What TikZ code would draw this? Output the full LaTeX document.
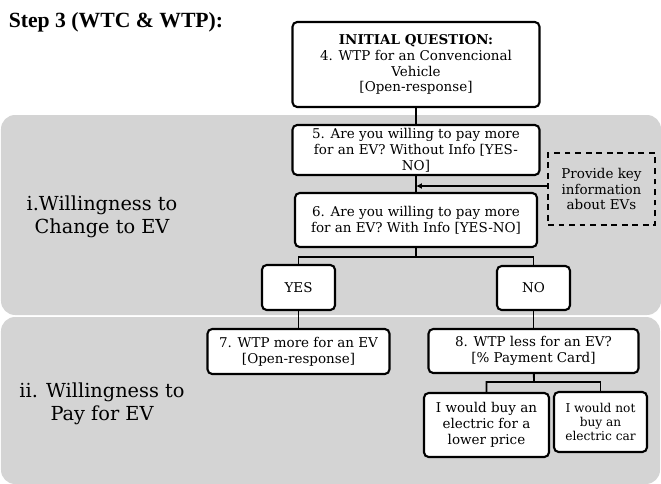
\documentclass[tikz,border=0pt]{standalone}
\usepackage{fontspec}
\setmainfont{DejaVu Serif}
\newfontfamily\titlefont{Liberation Serif}
\usepackage{tikz}
\usetikzlibrary{arrows.meta}
\definecolor{panelgray}{RGB}{212,212,212}

\begin{document}
\begin{tikzpicture}[auto,
    box/.style={rectangle, rounded corners=4pt, draw=black, line width=1.8pt, fill=white, align=center, inner sep=1pt, font=\fontsize{11.5}{13.6}\selectfont},
    note/.style={rectangle, draw=black, dash pattern=on 5pt off 4pt, line width=1.4pt, align=center, inner sep=1pt, font=\fontsize{11.5}{13.6}\selectfont},
    link/.style={line width=1.6pt},
    arrow/.style={line width=0.9pt, -{Latex[length=5pt,width=5pt]}},
    panel/.style={fill=panelgray, draw=none, rounded corners=12pt},
    section/.style={align=center, font=\fontsize{16.5}{19.5}\selectfont}]

    \useasboundingbox (0,0) rectangle (19.83,-14.52);

    % background panels
    \fill [panel] (0.03,-3.45) rectangle (19.83,-9.45);
    \fill [panel] (0.03,-9.51) rectangle (19.80,-14.52);

    % titles
    \node (title) at (3.48,-0.66) {\titlefont\fontsize{18.5}{22}\selectfont\bfseries Step 3 (WTC \& WTP):};
    \node [section] (wtc) at (3.06,-6.51) {i.Willingness to\\Change to EV};
    \node [section] (wtp) at (3.06,-12.12) {ii. Willingness to\\Pay for EV};

    % questions
    \node [box, minimum width=7.41cm, minimum height=2.55cm] (init) at (12.48,-1.935)
        {\textbf{INITIAL QUESTION:}\\4. WTP for an Convencional\\Vehicle\\{[Open-response]}};
    \node [box, minimum width=7.41cm, minimum height=1.5cm, below of=init, node distance=2.565cm] (q5)
        {5. Are you willing to pay more\\for an EV? Without Info [YES-\\NO]};
    \node [box, minimum width=7.26cm, minimum height=1.62cm, below of=q5, node distance=2.1cm] (q6)
        {6. Are you willing to pay more\\for an EV? With Info [YES-NO]};
    \node [note, minimum width=3.21cm, minimum height=2.16cm] (info) at (18.045,-5.67)
        {Provide key\\information\\about EVs};

    \node [box, minimum width=2.19cm, minimum height=1.35cm] (yes) at (8.955,-8.625) {YES};
    \node [box, minimum width=2.19cm, minimum height=1.32cm] (no) at (16.005,-8.64) {NO};

    \node [box, minimum width=5.46cm, minimum height=1.35cm, below of=yes, node distance=1.92cm] (q7)
        {7. WTP more for an EV\\{[Open-response]}};
    \node [box, minimum width=6.3cm, minimum height=1.32cm, below of=no, node distance=1.89cm] (q8)
        {8. WTP less for an EV?\\{[\% Payment Card]}};

    \node [box, minimum width=3.75cm, minimum height=1.92cm] (buy) at (14.595,-12.75)
        {I would buy an\\electric for a\\lower price};
    \node [box, minimum width=2.79cm, minimum height=1.8cm, font=\fontsize{10.4}{12}\selectfont] (notbuy) at (18.015,-12.66)
        {I would not\\buy an\\electric car};

    % branch points
    \coordinate (join) at (12.48,-5.58);
    \coordinate (split1) at (12.48,-7.71);
    \coordinate (split2) at (16.02,-11.46);

    % connectors
    \draw [link] (init) -- (q5);
    \draw [link] (q5) -- (q6);
    \draw [arrow] (info.west |- join) -- (join);
    \draw [link] (q6) -- (split1) -| (yes);
    \draw [link] (split1) -| (no);
    \draw [link] (yes) -- (q7);
    \draw [link] (no) -- (q8);
    \draw [link] (q8) -- (split2) -| (buy);
    \draw [link] (split2) -| (notbuy);
\end{tikzpicture}
\end{document}
